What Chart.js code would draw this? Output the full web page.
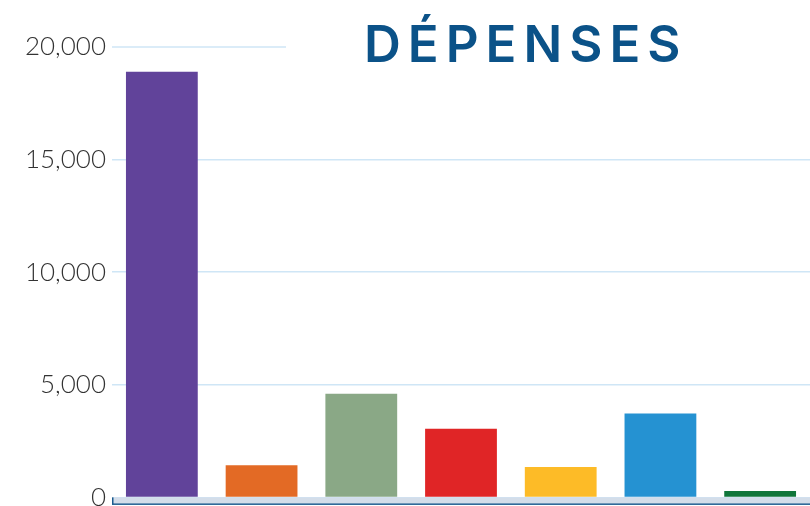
<!DOCTYPE html>
<html>
<head>
<meta charset="utf-8">
<script src="https://cdn.jsdelivr.net/npm/chart.js@4"></script>
<style>
  html, body { margin: 0; padding: 0; background: #fff; overflow: hidden; }
  #wrap { width: 810px; height: 519px; }
</style>
</head>
<body>
<div id="wrap"><canvas id="depenses"></canvas></div>
<script>
const categories = ['Catégorie 1', 'Catégorie 2', 'Catégorie 3', 'Catégorie 4', 'Catégorie 5', 'Catégorie 6', 'Catégorie 7'];
const amounts = [18900, 1430, 4600, 3050, 1350, 3730, 280];
const barColors = ['#61439a', '#e36a25', '#8aa886', '#e02526', '#fdbb27', '#2592d2', '#10763a'];
const yTicks = [0, 5000, 10000, 15000, 20000];
const TITLE = 'DÉPENSES';

const GRID = '#cfe6f6';

// title sits inside the plot, top right, and the 20,000 line stops short of it
const decorPlugin = {
    id: 'decor',
    beforeDatasetsDraw(chart) {
        const { ctx, chartArea, scales } = chart;
        const y = scales.y.getPixelForValue(yTicks[yTicks.length - 1]);
        ctx.save();
        ctx.strokeStyle = GRID;
        ctx.lineWidth = 1.5;
        ctx.beginPath();
        ctx.moveTo(chartArea.left, y);
        ctx.lineTo(chartArea.left + 174, y);
        ctx.stroke();
        ctx.restore();
    },
    afterDraw(chart) {
        const { ctx, chartArea } = chart;
        ctx.save();
        // axis band
        ctx.fillStyle = '#d3dde9';
        ctx.fillRect(chartArea.left, chartArea.bottom, chartArea.right - chartArea.left, 6);
        ctx.fillStyle = '#1b5a8e';
        ctx.fillRect(chartArea.left, chartArea.bottom + 6, chartArea.right - chartArea.left, 1.5);
        ctx.fillRect(chartArea.left, chartArea.bottom, 1.5, 7);
        // title
        ctx.fillStyle = '#0b5288';
        ctx.font = '600 51px Inter, "Open Sans", sans-serif';
        ctx.letterSpacing = '7px';
        ctx.textAlign = 'left';
        ctx.textBaseline = 'alphabetic';
        ctx.fillText(TITLE, 364, 62);
        ctx.restore();
    }
};

new Chart(document.getElementById('depenses'), {
    type: 'bar',
    data: {
        labels: categories,
        datasets: [{
            label: TITLE,
            data: amounts,
            backgroundColor: barColors,
            borderWidth: 0,
            barPercentage: 0.72,
            categoryPercentage: 1.0,
        }]
    },
    options: {
        responsive: true,
        maintainAspectRatio: false,
        animation: false,
        layout: { padding: { top: 47, right: 0, bottom: 9, left: 0 } },
        plugins: {
            legend: { display: false },
            title: { display: false },
            tooltip: { enabled: false }
        },
        scales: {
            x: {
                display: false
            },
            y: {
                min: 0,
                max: 20000,
                afterBuildTicks: (axis) => { axis.ticks = yTicks.map(v => ({ value: v })); },
                afterFit: (axis) => { axis.width = 112; },
                ticks: {
                    padding: 6,
                    color: '#333333',
                    font: { family: 'Lato, "Open Sans", sans-serif', size: 26, weight: '300' },
                    callback: (v) => v.toLocaleString('en-US')
                },
                grid: {
                    drawTicks: false,
                    lineWidth: 1.5,
                    color: (c) => c.tick && c.tick.value === yTicks[yTicks.length - 1] ? 'rgba(0,0,0,0)' : GRID
                },
                border: { display: false }
            }
        }
    },
    plugins: [decorPlugin]
});
</script>
</body>
</html>
